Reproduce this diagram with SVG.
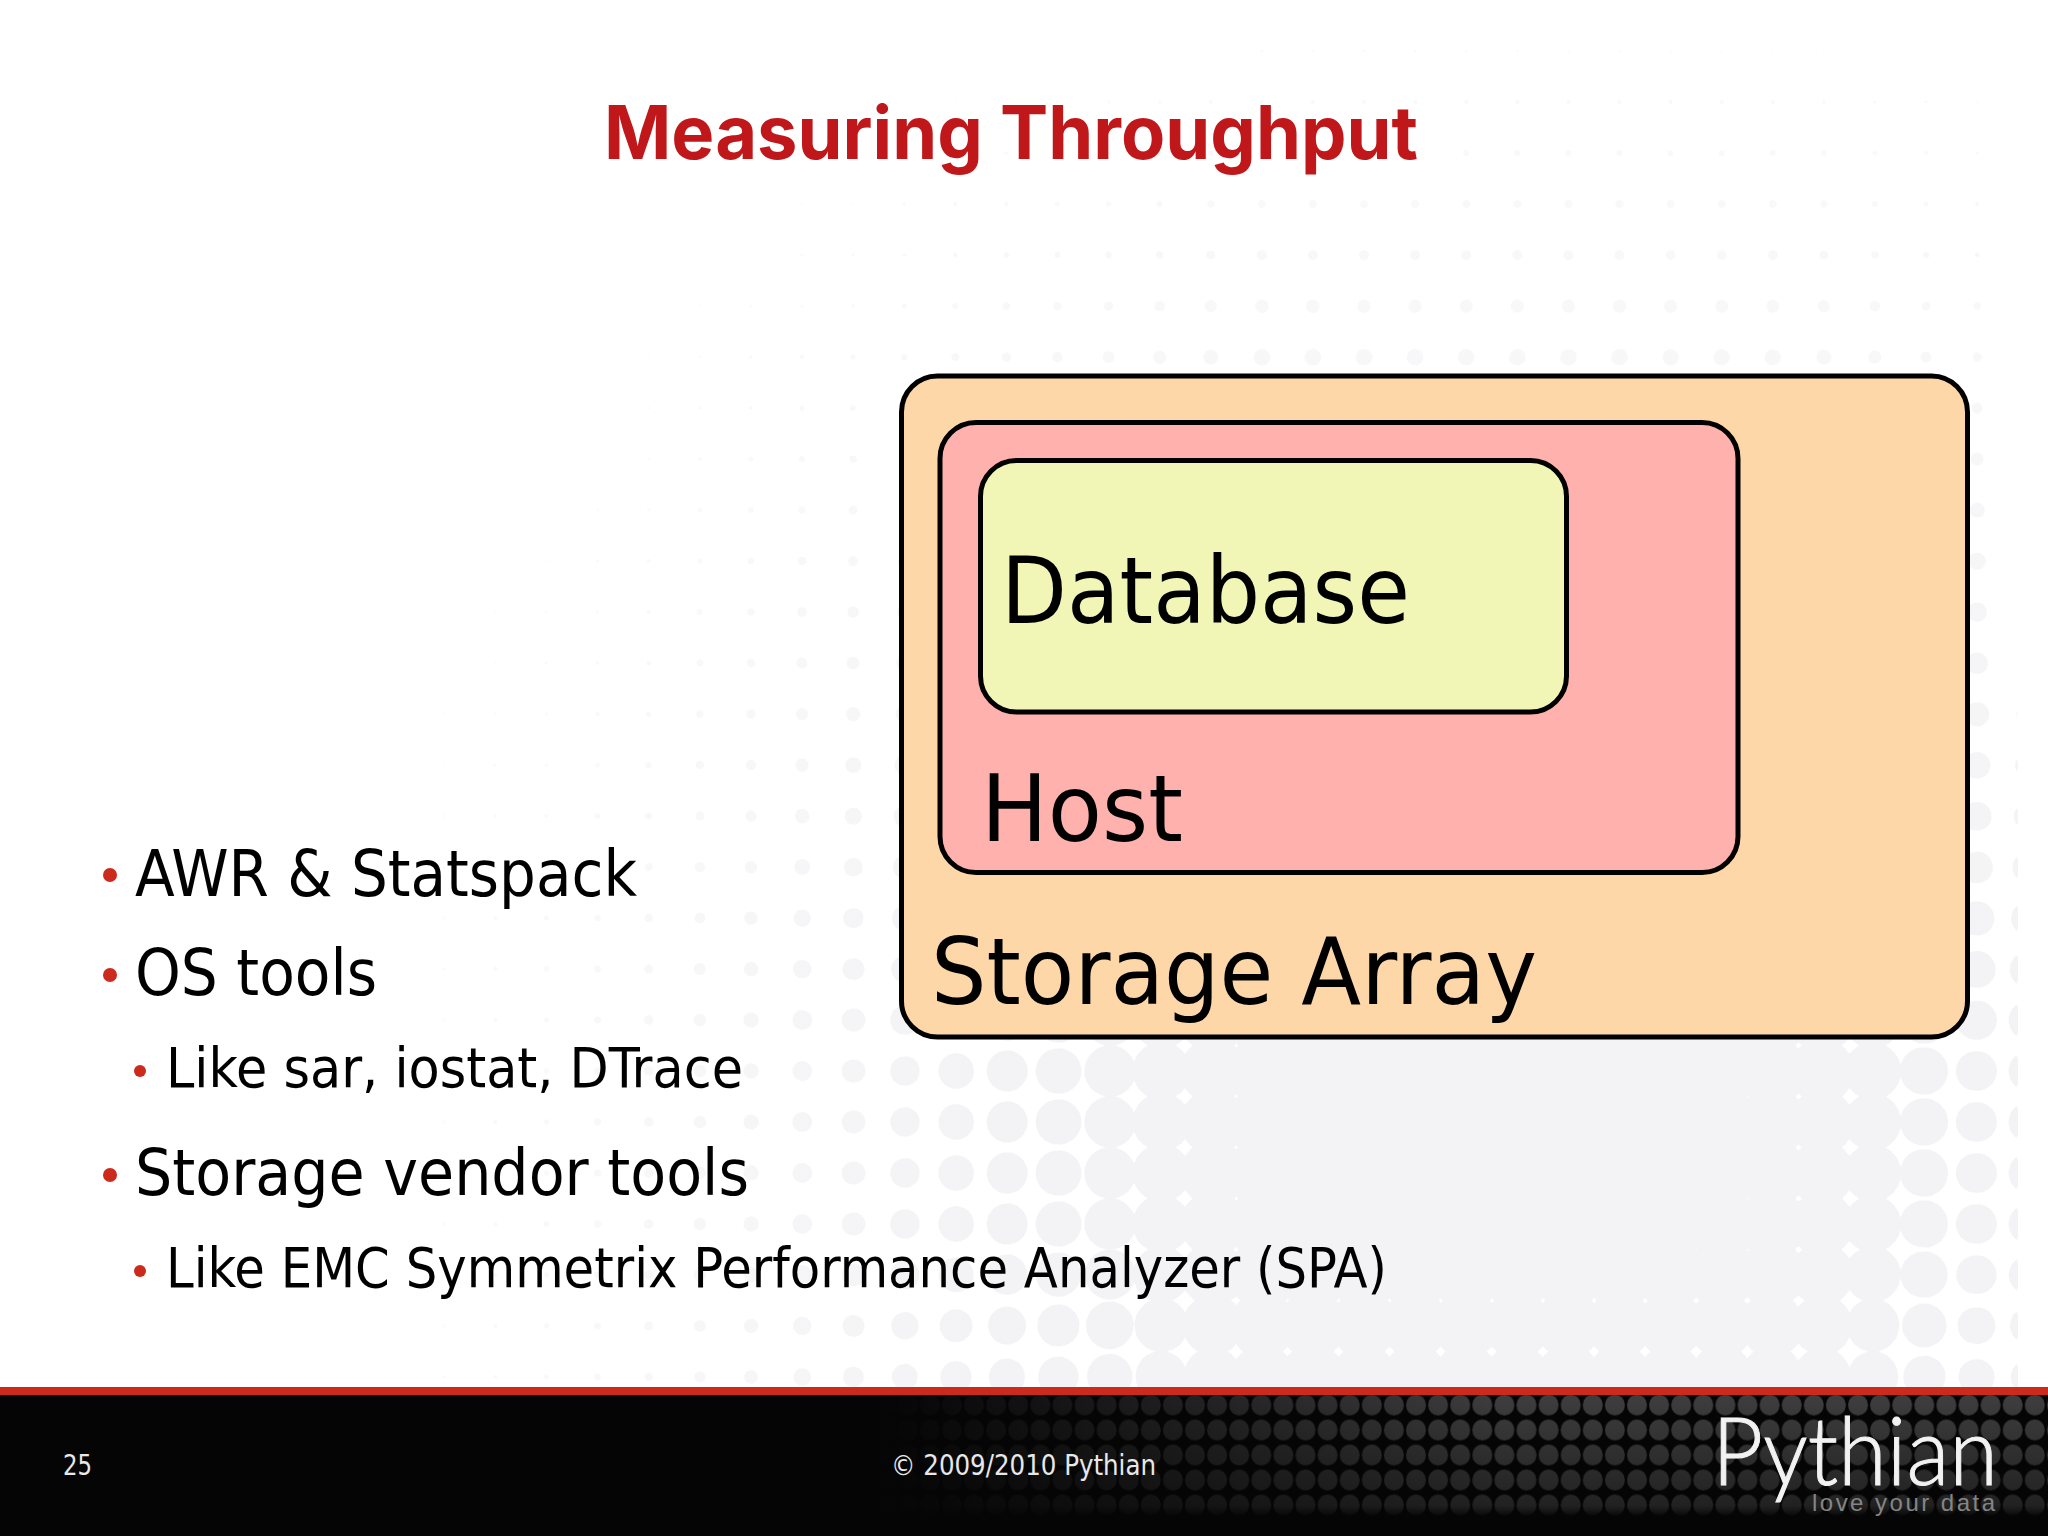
<svg xmlns="http://www.w3.org/2000/svg" width="2048" height="1536" viewBox="0 0 2048 1536">
<style>
.box{stroke:#000;stroke-width:5}
.lbl{font-family:"DejaVu Sans",sans-serif;fill:#000}
.b1,.b2{font-family:"DejaVu Sans",sans-serif;font-stretch:condensed;fill:#000}
.b1{font-size:64px}.b2{font-size:55px}
.bul{fill:#cc2a1c}
.ft{font-family:"DejaVu Sans",sans-serif;font-stretch:condensed;font-size:28px;fill:#e8e8e8}
</style>
<defs>
<linearGradient id="fx" gradientUnits="userSpaceOnUse" x1="0" y1="0" x2="2048" y2="0">
<stop offset="0.195" stop-color="#000"/><stop offset="0.216" stop-color="#070707"/><stop offset="0.242" stop-color="#090909"/><stop offset="0.267" stop-color="#0b0b0b"/><stop offset="0.292" stop-color="#0e0e0e"/><stop offset="0.316" stop-color="#121212"/><stop offset="0.341" stop-color="#171717"/><stop offset="0.366" stop-color="#1c1c1c"/><stop offset="0.391" stop-color="#242424"/><stop offset="0.416" stop-color="#2a2a2a"/><stop offset="0.441" stop-color="#353535"/><stop offset="0.466" stop-color="#404040"/><stop offset="0.491" stop-color="#4a4a4a"/><stop offset="0.516" stop-color="#515151"/><stop offset="0.541" stop-color="#5c5c5c"/><stop offset="0.566" stop-color="#676767"/><stop offset="0.591" stop-color="#757575"/><stop offset="0.616" stop-color="#838383"/><stop offset="0.80" stop-color="#818181"/><stop offset="0.865" stop-color="#7e7e7e"/><stop offset="0.89" stop-color="#757575"/><stop offset="0.915" stop-color="#676767"/><stop offset="0.94" stop-color="#555555"/><stop offset="0.965" stop-color="#474747"/><stop offset="0.985" stop-color="#474747"/><stop offset="0.986" stop-color="#000"/>
</linearGradient>
<linearGradient id="fy" gradientUnits="userSpaceOnUse" x1="0" y1="0" x2="0" y2="1536">
<stop offset="0.02" stop-color="#000"/><stop offset="0.033" stop-color="#0a0a0a"/><stop offset="0.1" stop-color="#171717"/><stop offset="0.166" stop-color="#242424"/><stop offset="0.232" stop-color="#3b3b3b"/><stop offset="0.332" stop-color="#616161"/><stop offset="0.432" stop-color="#8c8c8c"/><stop offset="0.531" stop-color="#bababa"/><stop offset="0.631" stop-color="#ededed"/><stop offset="0.664" stop-color="#fff"/><stop offset="0.797" stop-color="#fff"/><stop offset="0.83" stop-color="#fbfbfb"/><stop offset="0.863" stop-color="#ebebeb"/><stop offset="0.897" stop-color="#e0e0e0"/>
</linearGradient>
<radialGradient id="cone" gradientUnits="userSpaceOnUse" cx="25.55" cy="25.5" r="36.1">
<stop offset="0" stop-color="#808080"/><stop offset="1" stop-color="#000"/>
</radialGradient>
<pattern id="tile" patternUnits="userSpaceOnUse" width="51.1" height="51" patternTransform="translate(9.85 -25.5)">
<rect width="51.1" height="51" fill="url(#cone)"/>
</pattern>
<filter id="th" filterUnits="userSpaceOnUse" x="0" y="0" width="2048" height="1390" color-interpolation-filters="sRGB">
<feColorMatrix type="matrix" values="0 0 0 0 .953  0 0 0 0 .953  0 0 0 0 .962  72 0 0 0 -36"/>
</filter>
<linearGradient id="fadeL" gradientUnits="userSpaceOnUse" x1="400" y1="0" x2="1000" y2="0">
<stop offset="0" stop-color="#fff" stop-opacity=".65"/><stop offset="1" stop-color="#fff" stop-opacity="0"/>
</linearGradient>
<linearGradient id="fadeT" gradientUnits="userSpaceOnUse" x1="0" y1="0" x2="0" y2="1000">
<stop offset="0" stop-color="#fff" stop-opacity=".6"/><stop offset="1" stop-color="#fff" stop-opacity="0"/>
</linearGradient>
<pattern id="fd" patternUnits="userSpaceOnUse" width="22.1" height="25" patternTransform="translate(1405 1392.5)">
<ellipse cx="11" cy="12.5" rx="10" ry="10.5" fill="#3e3e3e"/>
</pattern>
<linearGradient id="fdL" gradientUnits="userSpaceOnUse" x1="880" y1="0" x2="1500" y2="0">
<stop offset="0" stop-color="#050505"/><stop offset="1" stop-color="#050505" stop-opacity="0"/>
</linearGradient>
<linearGradient id="fdB" gradientUnits="userSpaceOnUse" x1="0" y1="1395" x2="0" y2="1518">
<stop offset="0" stop-color="#050505" stop-opacity="0"/><stop offset=".9" stop-color="#050505" stop-opacity=".5"/><stop offset="1" stop-color="#050505"/>
</linearGradient>
</defs>
<rect width="2048" height="1536" fill="#fff"/>
<g id="background">
<g filter="url(#th)">
<rect width="2048" height="1390" fill="url(#fx)"/>
<rect width="2048" height="1390" fill="url(#fy)" style="mix-blend-mode:multiply"/>
<rect width="2048" height="1390" fill="url(#tile)" style="mix-blend-mode:plus-lighter"/>
</g>
<rect width="1000" height="1390" x="0" fill="url(#fadeL)"/>
<rect width="2048" height="1000" fill="url(#fadeT)"/>
</g>
<text id="title" x="604" y="159" font-family="Inter,sans-serif" font-weight="700" font-size="74" fill="#c0181a" textLength="814" lengthAdjust="spacingAndGlyphs">Measuring Throughput</text>
<g id="storage-array">
<rect class="box" x="901.500" y="376" width="1066" height="661" rx="36" fill="#fdd7a8"/>
<text class="lbl" x="931" y="1004" font-size="92" textLength="606" lengthAdjust="spacingAndGlyphs">Storage Array</text>
</g>
<g id="host">
<rect class="box" x="940" y="422.500" width="798" height="450" rx="36" fill="#ffb2ad"/>
<text class="lbl" x="981" y="841" font-size="92" textLength="202" lengthAdjust="spacingAndGlyphs">Host</text>
</g>
<g id="database">
<rect class="box" x="980.500" y="460.500" width="586" height="251.500" rx="36" fill="#f1f6b6"/>
<text class="lbl" x="1001" y="623" font-size="92" textLength="409" lengthAdjust="spacingAndGlyphs">Database</text>
</g>
<g id="bullets">
<circle class="bul" cx="110" cy="875" r="7"/>
<text class="b1" x="135" y="896" textLength="502" lengthAdjust="spacingAndGlyphs">AWR &amp; Statspack</text>
<circle class="bul" cx="110" cy="975" r="7"/>
<text class="b1" x="135" y="995" textLength="242" lengthAdjust="spacingAndGlyphs">OS tools</text>
<circle class="bul" cx="140" cy="1071" r="6"/>
<text class="b2" x="166" y="1087" textLength="577" lengthAdjust="spacingAndGlyphs">Like sar, iostat, DTrace</text>
<circle class="bul" cx="110" cy="1175" r="7"/>
<text class="b1" x="135" y="1195" textLength="614" lengthAdjust="spacingAndGlyphs">Storage vendor tools</text>
<circle class="bul" cx="140" cy="1271" r="6"/>
<text class="b2" x="166" y="1287" textLength="1221" lengthAdjust="spacingAndGlyphs">Like EMC Symmetrix Performance Analyzer (SPA)</text>
</g>
<g id="footer">
<rect y="1395" width="2048" height="141" fill="#050505"/>
<rect y="1387" width="2048" height="8" fill="#cc2a1c"/>
<rect x="880" y="1395" width="1168" height="125" fill="url(#fd)"/>
<rect x="880" y="1395" width="620" height="125" fill="url(#fdL)"/>
<rect x="880" y="1395" width="1168" height="125" fill="url(#fdB)"/>
<text class="ft" x="63" y="1475" textLength="29" lengthAdjust="spacingAndGlyphs">25</text>
<text class="ft" x="891" y="1475" textLength="265" lengthAdjust="spacingAndGlyphs">© 2009/2010 Pythian</text>
<text x="1712" y="1485" font-family="Lato,sans-serif" font-weight="300" font-size="94" fill="#f2f2f2" stroke="#f2f2f2" stroke-width="1" textLength="286" lengthAdjust="spacingAndGlyphs">Pythian</text>
<text x="1812" y="1511" font-family="Liberation Sans,sans-serif" font-size="24" fill="#858585" textLength="183" lengthAdjust="spacing">love your data</text>
</g>
</svg>
